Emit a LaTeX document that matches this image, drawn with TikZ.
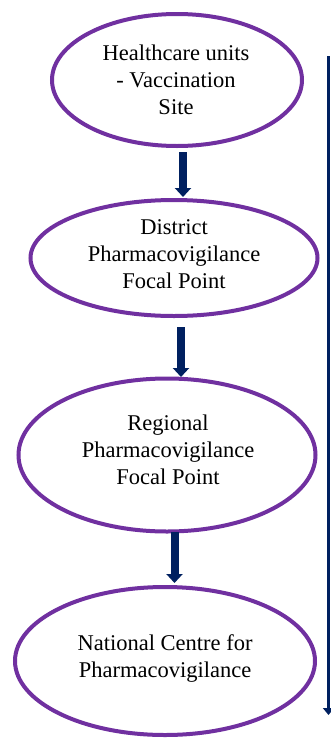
\documentclass[tikz,border=0pt]{standalone}
\usepackage{fontspec}
\setmainfont{Liberation Serif}
\usetikzlibrary{arrows.meta,shapes.geometric}
\definecolor{ellpurple}{HTML}{7030A0}
\definecolor{navy}{HTML}{002060}
\begin{document}
\begin{tikzpicture}[x=1pt,y=-1pt,
  ell/.style={ellipse, draw=ellpurple, line width=4pt, inner sep=0pt, fill=white},
  lbl/.style={align=center, inner sep=0pt, font=\fontsize{22.5}{27}\selectfont},
  blockarrow/.style={draw=navy, line width=8pt, -{Triangle[width=16pt,length=9pt]}},
  sidearrow/.style={draw=navy, line width=2.2pt, -{Triangle[width=11pt,length=7pt]}}]
\useasboundingbox (0,0) rectangle (330,739);
\node[ell, minimum width=250pt, minimum height=132pt] (e1) at (177,80) {};
\node[ell, minimum width=287pt, minimum height=116pt] (e2) at (174,258) {};
\node[ell, minimum width=297pt, minimum height=153pt] (e3) at (167,455) {};
\node[ell, minimum width=300pt, minimum height=148pt] (e4) at (165,661) {};
\node[lbl] (t1) at (176,80) {Healthcare units\\- Vaccination\\Site};
\node[lbl] (t2) at (174,254) {District\\Pharmacovigilance\\Focal Point};
\node[lbl] (t3) at (168,450) {Regional\\Pharmacovigilance\\Focal Point};
\node[lbl] (t4) at (165,658) {National Centre for\\Pharmacovigilance};
\coordinate (a1s) at (183,152);
\coordinate (a1e) at (183,197);
\coordinate (a2s) at (181,327);
\coordinate (a2e) at (181,377);
\coordinate (a3s) at (174.5,532);
\coordinate (a3e) at (174.5,583);
\draw[blockarrow] (a1s) -- (a1e);
\draw[blockarrow] (a2s) -- (a2e);
\draw[blockarrow] (a3s) -- (a3e);
\coordinate (rtop) at (328.5,56);
\coordinate (rbot) at (328.5,715);
\draw[sidearrow] (rtop) -- (rbot);
\end{tikzpicture}
\end{document}
